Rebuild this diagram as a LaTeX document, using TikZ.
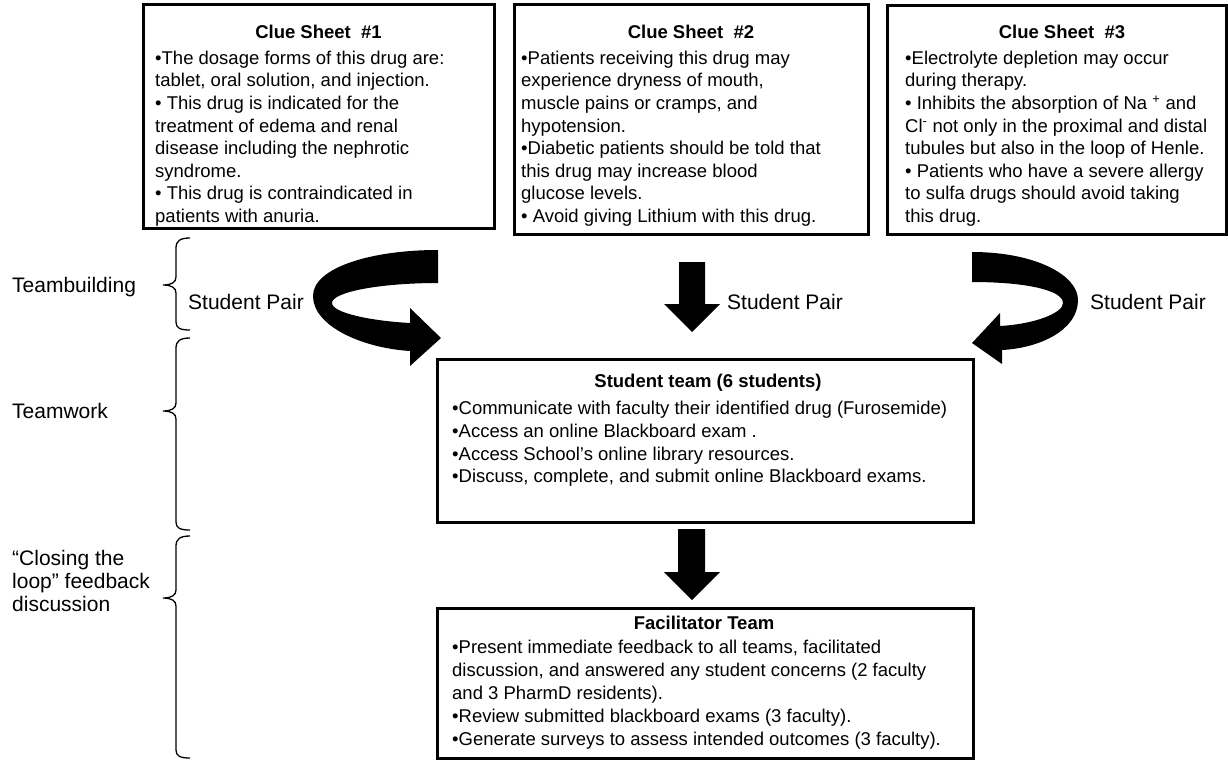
\documentclass[tikz,border=0pt]{standalone}
\usepackage{fontspec}
\setmainfont{Liberation Sans}
\begin{document}
\begin{tikzpicture}[x=1pt,y=-1pt,
  box/.style={draw=black, line width=3pt, fill=white, inner sep=0pt, outer sep=0pt, anchor=north west},
  ttl/.style={font=\bfseries\fontsize{18.5}{22}\selectfont, inner sep=0pt, anchor=base},
  body/.style={font=\fontsize{18.5}{22.6}\selectfont, align=left, inner sep=0pt, anchor=north west},
  lbl/.style={font=\fontsize{21}{23}\selectfont, inner sep=0pt, anchor=base west},
  brc/.style={draw=black, line width=1.3pt},
  blk/.style={fill=black}]
\useasboundingbox (0,0) rectangle (1228,761);

% clue sheet boxes
\node[box, minimum width=351pt, minimum height=224pt] (c1) at (143,4) {};
\node[box, minimum width=354pt, minimum height=230pt] (c2) at (514,4) {};
\node[box, minimum width=339pt, minimum height=229pt] (c3) at (887,5) {};

\node[ttl] (t1) at (318.5,38.5) {Clue Sheet\ \ \#1};
\node[ttl] (t2) at (691,38.5) {Clue Sheet\ \ \#2};
\node[ttl] (t3) at (1062,38.5) {Clue Sheet\ \ \#3};

\node[body] (b1) at (155,48.2) {\strut•The dosage forms of this drug are:\\
tablet, oral solution, and injection.\\
• This drug is indicated for the\\
treatment of edema and renal\\
disease including the nephrotic\\
syndrome.\\
• This drug is contraindicated in\\
patients with anuria.};

\node[body] (b2) at (521,48.2) {\strut•Patients receiving this drug may\\
experience dryness of mouth,\\
muscle pains or cramps, and\\
hypotension.\\
•Diabetic patients should be told that\\
this drug may increase blood\\
glucose levels.\\
• Avoid giving Lithium with this drug.};

\node[body] (b3) at (905,48.2) {\strut•Electrolyte depletion may occur\\
during therapy.\\
• Inhibits the absorption of Na \textsuperscript{+} and\\
Cl\textsuperscript{-} not only in the proximal and distal\\
tubules but also in the loop of Henle.\\
• Patients who have a severe allergy\\
to sulfa drugs should avoid taking\\
this drug.};

% student team
\node[box, minimum width=536pt, minimum height=163pt] (st) at (437,359) {};
\node[ttl] (stt) at (708,387.5) {Student team (6 students)};
\node[body, font=\fontsize{18.5}{22.7}\selectfont] (stb) at (452,398.6) {\strut•Communicate with faculty their identified drug (Furosemide)\\
•Access an online Blackboard exam .\\
•Access School’s online library resources.\\
•Discuss, complete, and submit online Blackboard exams.};

% facilitator team
\node[box, minimum width=536pt, minimum height=150pt] (fa) at (437,608) {};
\node[ttl] (fat) at (704,629.5) {Facilitator Team};
\node[body, font=\fontsize{18.5}{23}\selectfont] (fab) at (452,637.4) {\strut•Present immediate feedback to all teams, facilitated\\
discussion, and answered any student concerns (2 faculty\\
and 3 PharmD residents).\\
•Review submitted blackboard exams (3 faculty).\\
•Generate surveys to assess intended outcomes (3 faculty).};

% block arrows
\fill[blk] (438,250) .. controls (370,250) and (313,268) .. (313,296)
  .. controls (313,326) and (362,348) .. (410,351) -- (410,366) -- (441,338)
  -- (410,308) -- (410,323) .. controls (372,321) and (332,313) .. (332,303)
  .. controls (332,292) and (380,283) .. (438,283) -- cycle;
\fill[blk] (972,252) .. controls (1035,252) and (1078,275) .. (1078,300)
  .. controls (1078,330) and (1040,348) .. (1002,350) -- (1002,364) -- (972,343)
  -- (1000,313) -- (1000,326) .. controls (1035,324) and (1063,313) .. (1063,303)
  .. controls (1063,290) and (1025,282) .. (972,282) -- cycle;
\fill[blk] (679,262) -- (705,262) -- (705,304) -- (720,304) -- (692,332) -- (664,304) -- (679,304) -- cycle;
\fill[blk] (678,529) -- (705,529) -- (705,572) -- (720,572) -- (692,600) -- (664,572) -- (678,572) -- cycle;

% labels
\node[lbl] (sp1) at (188,309.5) {Student Pair};
\node[lbl] (sp2) at (727,309.5) {Student Pair};
\node[lbl] (sp3) at (1090,309.5) {Student Pair};
\node[lbl] (l1) at (12,292) {Teambuilding};
\node[lbl] (l2) at (12,418) {Teamwork};
\node[lbl, font=\fontsize{21}{23}\selectfont, align=left, anchor=north west] (l3) at (12,549) {\strut“Closing the\\loop” feedback\\discussion};

% braces
\draw[brc] (190,238) .. controls (180,238) and (176,241) .. (176,248) -- (176,277)
  .. controls (176,282) and (172,285) .. (163,285) .. controls (172,285) and (176,288) .. (176,293)
  -- (176,322) .. controls (176,328) and (180,330) .. (190,330);
\draw[brc] (190,338) .. controls (180,338) and (176,341) .. (176,348) -- (176,403)
  .. controls (176,408) and (172,411) .. (163,411) .. controls (172,411) and (176,414) .. (176,419)
  -- (176,522) .. controls (176,528) and (180,530) .. (190,530);
\draw[brc] (190,536) .. controls (180,536) and (176,539) .. (176,546) -- (176,590)
  .. controls (176,595) and (172,598) .. (163,598) .. controls (172,598) and (176,601) .. (176,606)
  -- (176,750) .. controls (176,756) and (180,758) .. (190,758);
\end{tikzpicture}
\end{document}
